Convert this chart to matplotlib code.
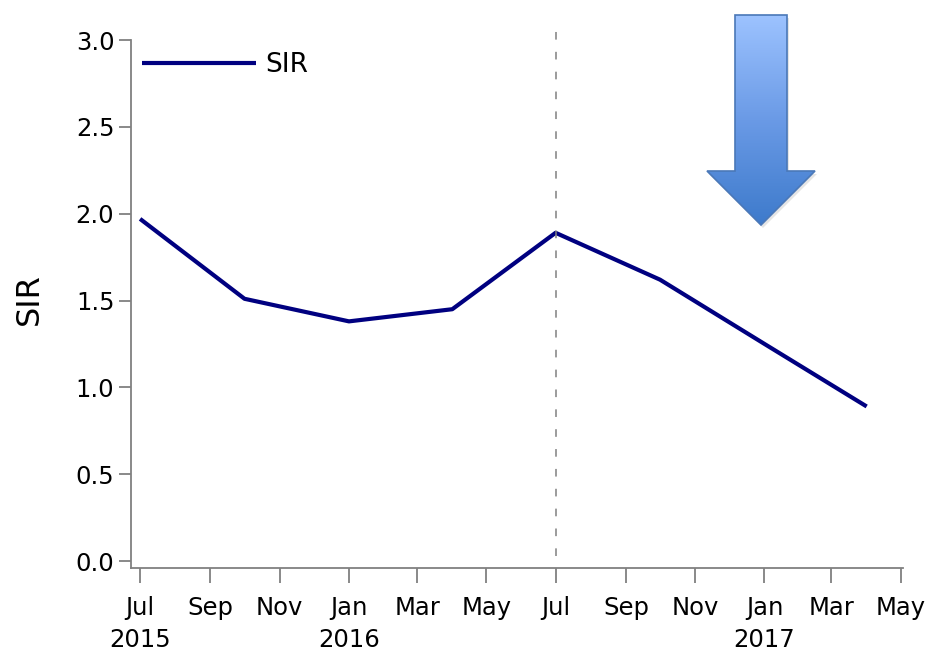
import numpy as np
import pandas as pd
import matplotlib
matplotlib.use("Agg")
import matplotlib.pyplot as plt
from matplotlib.patches import Polygon
from matplotlib.colors import LinearSegmentedColormap

plt.rcParams['font.family'] = ['DejaVu Sans']

# data
dates = pd.to_datetime(["2015-07-01", "2015-10-01", "2016-01-01", "2016-04-01",
                        "2016-07-01", "2016-10-01", "2017-01-01", "2017-04-01"])
sir = [1.97, 1.51, 1.38, 1.45, 1.89, 1.62, 1.25, 0.89]
y_ticks = [0.0, 0.5, 1.0, 1.5, 2.0, 2.5, 3.0]
tick_dates = pd.date_range("2015-07-01", "2017-05-01", freq="2MS")
year_labels = {"2015-07": "2015", "2016-01": "2016", "2017-01": "2017"}
divider_date = pd.Timestamp("2016-07-01")

W, H = 929, 653
fig = plt.figure(figsize=(W / 100, H / 100), dpi=100)
ax = fig.add_axes([131 / W, 1 - 568 / H, (903 - 131) / W, (568 - 40) / H])

ax.plot(dates, sir, color="#000080", lw=3.0, label="SIR", solid_capstyle="butt")
ax.plot([divider_date, divider_date], [0.03, 3.06], color="#808080", lw=1.1,
        ls=(0, (5, 8)), clip_on=False)

ax.set_ylim(-0.04, 3.0)
ax.set_xlim(pd.Timestamp("2015-06-23"), pd.Timestamp("2017-05-03"))
ax.set_yticks(y_ticks)
ax.set_yticklabels([f"{v:.1f}" for v in y_ticks])
ax.set_xticks(tick_dates)
labels = []
for d in tick_dates:
    s = d.strftime("%b")
    key = d.strftime("%Y-%m")
    if key in year_labels:
        s += "\n" + year_labels[key]
    labels.append(s)
ax.set_xticklabels(labels, linespacing=1.45)

for s in ["top", "right"]:
    ax.spines[s].set_visible(False)
for s in ["left", "bottom"]:
    ax.spines[s].set_color("#808080")
    ax.spines[s].set_linewidth(1.3)
ax.tick_params(axis="x", length=11, width=1.3, color="#808080", labelsize=17.5, pad=9)
ax.tick_params(axis="y", length=9, width=1.3, color="#808080", labelsize=17.5, pad=3)
ax.set_ylabel("SIR", fontsize=23)
ax.yaxis.set_label_coords(-0.112, 0.51)

leg = ax.legend(loc="upper left", frameon=False, fontsize=19, handlelength=4.3,
                bbox_to_anchor=(0.006, 0.99), borderaxespad=0.0, borderpad=0.25,
                handletextpad=0.35)

# decorative gradient arrow (figure pixel coordinates)
ov = fig.add_axes([0, 0, 1, 1])
ov.set_xlim(0, W)
ov.set_ylim(H, 0)
ov.axis("off")
pts = [(735, 15), (787, 15), (787, 171), (815, 171), (761, 225), (707, 171), (735, 171)]
shadow = Polygon([(x + 2, y + 3) for x, y in pts], closed=True, fc="#000000", alpha=0.10, ec="none")
ov.add_patch(shadow)
grad = np.linspace(0, 1, 256).reshape(-1, 1)
cmap = LinearSegmentedColormap.from_list("ab", ["#9dc3ff", "#6a9ae6", "#3d7acb"])
im = ov.imshow(grad, cmap=cmap, extent=(705, 817, 226, 14), aspect="auto", zorder=1)
clip = Polygon(pts, closed=True, transform=ov.transData)
im.set_clip_path(clip)
poly = Polygon(pts, closed=True, fc="none", ec="#4a78b8", lw=1.2, zorder=2)
ov.add_patch(poly)

fig.savefig("out.png", dpi=100)
